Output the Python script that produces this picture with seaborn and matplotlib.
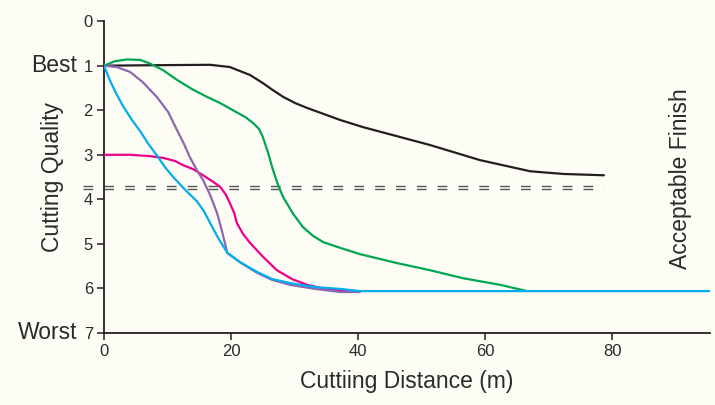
import pandas as pd
import matplotlib
matplotlib.use('Agg')
import matplotlib.pyplot as plt
import matplotlib.transforms as mtransforms
import seaborn as sns

# =====================
# Data
# =====================
black_x = [0, 7.2, 16.7, 19.8, 23.0, 25.0, 26.6, 28.2, 30.1, 32.0, 37.2, 40.8, 51.3, 59.2, 67.1, 72.3, 78.7]
black_y = [1.0, 0.99, 0.98, 1.03, 1.21, 1.39, 1.55, 1.70, 1.84, 1.95, 2.22, 2.38, 2.78, 3.12, 3.37, 3.43, 3.46]

green_x = [0, 1.7, 3.6, 5.7, 7.2, 9.3, 11.5, 13.9, 16.2, 18.3, 20.3, 22.2, 23.5, 24.4, 25.0, 25.8, 26.6,
           27.4, 28.2, 29.8, 31.3, 32.9, 34.5, 37.2, 40.3, 46.1, 51.3, 56.5, 62.4, 66.6]
green_y = [1.0, 0.90, 0.86, 0.87, 0.95, 1.10, 1.32, 1.53, 1.70, 1.84, 2.0, 2.15, 2.29, 2.42, 2.6, 2.94, 3.34,
           3.68, 3.95, 4.33, 4.62, 4.82, 4.96, 5.09, 5.23, 5.43, 5.59, 5.77, 5.92, 6.06]

magenta_x = [0, 4.1, 7.2, 9.3, 11.2, 12.4, 14.0, 15.6, 17.0, 18.3, 19.2, 19.8, 20.5, 20.9, 21.9, 23.0,
             24.9, 27.2, 29.6, 32.0, 34.8, 37.2, 38.7]
magenta_y = [3.0, 3.0, 3.03, 3.07, 3.14, 3.23, 3.32, 3.46, 3.59, 3.72, 3.90, 4.08, 4.31, 4.53, 4.78, 4.98,
             5.27, 5.59, 5.79, 5.92, 6.01, 6.04, 6.06]

purple_x = [0, 2.0, 4.1, 6.1, 8.3, 10.1, 11.5, 12.6, 13.5, 14.6, 15.6, 16.7, 17.8, 18.6, 19.4, 21.4,
            24.1, 26.5, 29.3, 33.2, 37.2, 40.3]
purple_y = [1.0, 1.03, 1.14, 1.37, 1.70, 2.04, 2.45, 2.76, 3.05, 3.34, 3.57, 3.90, 4.31, 4.73, 5.2, 5.41,
            5.65, 5.81, 5.92, 6.01, 6.08, 6.08]

blue_x = [0, 0.9, 1.9, 3.0, 4.4, 5.7, 6.9, 8.3, 9.6, 10.9, 12.8, 14.6, 15.7, 16.7, 17.9, 19.4, 21.4,
          24.1, 26.5, 29.3, 33.2, 37.2, 40.3, 95.4]
blue_y = [1.0, 1.32, 1.62, 1.91, 2.22, 2.47, 2.74, 3.01, 3.28, 3.50, 3.79, 4.04, 4.26, 4.53, 4.85, 5.2, 5.41,
          5.63, 5.79, 5.88, 5.97, 6.01, 6.06, 6.06]

# acceptable finish band (two dashed lines)
finish_levels = [3.70, 3.77]
finish_x = [-3.3, 78.7]

y_ticks = [0, 1, 2, 3, 4, 5, 6, 7]
x_ticks = [0, 20, 40, 60, 80]

series = [
    ('black', black_x, black_y, '#231f20'),
    ('green', green_x, green_y, '#00a651'),
    ('magenta', magenta_x, magenta_y, '#ec008c'),
    ('purple', purple_x, purple_y, '#8f67ae'),
    ('blue', blue_x, blue_y, '#00aeef'),
]

# =====================
# Plot
# =====================
sns.set_style('white')
plt.rcParams['font.family'] = ['Liberation Sans', 'DejaVu Sans']
bg = '#fdfcf5'
txt = '#2b2b2b'

fig = plt.figure(figsize=(7.15, 4.05), dpi=100, facecolor=bg)
ax = fig.add_axes([0.1455, 0.1778, 0.8475, 0.770], facecolor=bg)

for level in finish_levels:
    ax.plot(finish_x, [level, level], color='#555555', lw=1.0, dashes=(7, 8), clip_on=False, zorder=1)

for name, xs, ys, col in series:
    df = pd.DataFrame({'x': xs, 'y': ys})
    sns.lineplot(data=df, x='x', y='y', sort=False, estimator=None, color=col, lw=1.6, ax=ax, zorder=3)

ax.set_xlim(0, 95.4)
ax.set_ylim(7, 0)
ax.set_xticks(x_ticks)
ax.set_yticks(y_ticks)

for s in ['top', 'right']:
    ax.spines[s].set_visible(False)
for s in ['left', 'bottom']:
    ax.spines[s].set_color('#231f20')
    ax.spines[s].set_linewidth(1.3)

ax.tick_params(axis='both', direction='out', length=5, width=1.1, colors='#231f20',
               labelsize=12, labelcolor=txt, pad=3, bottom=True, left=True)

ax.set_xlabel('Cuttiing Distance (m)', fontsize=16.5, color=txt, labelpad=8)
ax.set_ylabel('Cutting Quality', fontsize=16.5, color=txt, labelpad=14)

trans = mtransforms.blended_transform_factory(ax.transAxes, ax.transData)
ax.annotate('Best', xy=(0, 1), xycoords=trans, xytext=(-19.5, 0), textcoords='offset points',
            ha='right', va='center', fontsize=16.5, color=txt, annotation_clip=False)
ax.annotate('Worst', xy=(0, 7), xycoords=trans, xytext=(-19.5, 0), textcoords='offset points',
            ha='right', va='center', fontsize=16.5, color=txt, annotation_clip=False)

ax.text(0.951, 0.495, 'Acceptable Finish', transform=ax.transAxes, rotation=90,
        ha='center', va='center', fontsize=16.5, color=txt)

plt.savefig('out.png', dpi=100, facecolor=bg)
